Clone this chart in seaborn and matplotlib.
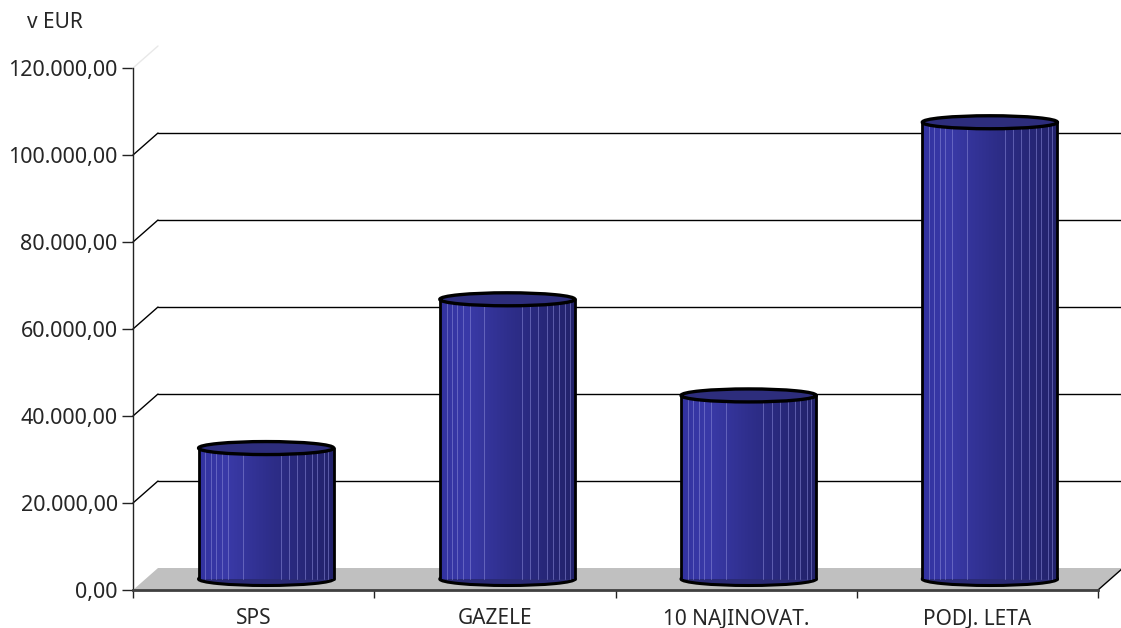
import numpy as np
import matplotlib
matplotlib.use('Agg')
import matplotlib.pyplot as plt
import matplotlib.transforms as mtransforms
from matplotlib.patches import Ellipse, Polygon
from matplotlib.colors import LinearSegmentedColormap
from matplotlib.ticker import FuncFormatter
import seaborn as sns

# podatki
kategorije = ['SPS', 'GAZELE', '10 NAJINOVAT.', 'PODJ. LETA']
vrednosti = [30100, 64300, 42200, 105000]
y_oznake = [0, 20000, 40000, 60000, 80000, 100000, 120000]
enota = 'v EUR'

sns.set_style('white')
plt.rcParams['font.family'] = ['Noto Sans', 'DejaVu Sans']

W, H, DPI = 1121, 628, 100
fig = plt.figure(figsize=(W / DPI, H / DPI), dpi=DPI)

# sprednja ravnina osi (piksli)
L, R, B, T = 133, 1098, 590, 68
ax = fig.add_axes([L / W, 1 - B / H, (R - L) / W, (B - T) / H])
YMAX = y_oznake[-1]

# globina 3D (piksli) in pretvorba v enote podatkov
DX, DY = 25, 22
dxd = DX * 4 / (R - L)
dyd = DY * YMAX / (B - T)
sredina = ax.transData + mtransforms.ScaledTranslation(DX / 2 / DPI, DY / 2 / DPI, fig.dpi_scale_trans)
zadaj = ax.transData + mtransforms.ScaledTranslation(DX / DPI, DY / DPI, fig.dpi_scale_trans)

# tla
tla = Polygon([(-0.5, 0), (3.5, 0), (3.5 + dxd, dyd), (-0.5 + dxd, dyd)],
              closed=True, facecolor='#c0c0c0', edgecolor='none', zorder=0.5, clip_on=False)
ax.add_patch(tla)
ax.plot([3.5, 3.5 + dxd], [0, dyd], color='black', lw=1, zorder=0.6, clip_on=False)

# mreža na zadnji steni + diagonale
for v in y_oznake[1:]:
    barva = '#e8e8e8' if v == YMAX else 'black'
    if v != YMAX:
        ax.plot([-0.5, 3.6], [v, v], transform=zadaj, color='black', lw=1, zorder=1, clip_on=False)
    ax.plot([-0.5, -0.5 + dxd], [v, v + dyd], color=barva, lw=1, zorder=1, clip_on=False)

# valji
sns.barplot(x=kategorije, y=vrednosti, ax=ax, width=0.56, color='#30308a', saturation=1, zorder=3)

cmap = LinearSegmentedColormap.from_list('valj', [(0, '#3232a0'), (0.2, '#3a3aa8'),
                                                  (0.55, '#2d2d88'), (1, '#22226a')])
grad = np.linspace(0, 1, 256).reshape(1, -1)
crte = [0.05, 0.09, 0.13, 0.17, 0.22, 0.33, 0.61, 0.67, 0.73, 0.79, 0.84, 0.88, 0.93, 0.96]
EH = 13 * YMAX / (B - T)

for p in list(ax.patches):
    if not hasattr(p, 'get_width') or p is tla:
        continue
    x0, w, h = p.get_x(), p.get_width(), p.get_height()
    p.set_transform(sredina)
    p.set_edgecolor('none')
    im = ax.imshow(grad, cmap=cmap, extent=[x0, x0 + w, 0, h], aspect='auto',
                   interpolation='bilinear', zorder=3.1)
    im.set_transform(sredina)
    for f in crte:
        ax.plot([x0 + f * w] * 2, [0, h], transform=sredina, color='#8a8ad8',
                lw=0.7, alpha=0.55, zorder=3.2)
    for xs in (x0, x0 + w):
        ax.plot([xs, xs], [0, h], transform=sredina, color='black', lw=2, zorder=3.3)
    ax.add_patch(Ellipse((x0 + w / 2, 0), w, EH, transform=sredina, facecolor='#2a2a75',
                         edgecolor='black', lw=2.2, zorder=2.9, clip_on=False))
    ax.add_patch(Ellipse((x0 + w / 2, h), w, EH, transform=sredina, facecolor='#2d2d7c',
                         edgecolor='black', lw=2.4, zorder=3.5, clip_on=False))

ax.set_xlim(-0.5, 3.5)
ax.set_ylim(0, YMAX)

# osi
for s in ['top', 'right']:
    ax.spines[s].set_visible(False)
ax.spines['left'].set_color('#222222')
ax.spines['left'].set_linewidth(1)
ax.spines['bottom'].set_color('#404040')
ax.spines['bottom'].set_linewidth(2)
ax.spines['left'].set_zorder(4)
ax.spines['bottom'].set_zorder(4)

ax.set_yticks(y_oznake)
ax.yaxis.set_major_formatter(FuncFormatter(
    lambda v, _: f'{v:,.2f}'.replace(',', 'X').replace('.', ',').replace('X', '.')))
ax.tick_params(axis='y', direction='out', length=8, width=1, color='#222222',
               labelsize=15.5, pad=3, left=True)

ax.set_xticks(range(len(kategorije)))
ax.set_xticklabels(kategorije)
ax.set_xticks([-0.5, 0.5, 1.5, 2.5, 3.5], minor=True)
ax.tick_params(axis='x', which='major', length=0, labelsize=15, pad=13)
ax.tick_params(axis='x', which='minor', direction='out', length=6, width=1,
               color='#222222', bottom=True)
ax.set_xlabel('')
ax.set_ylabel('')
ax.grid(False)

fig.text(27 / W, 1 - 22 / H, enota, fontsize=15, va='center', ha='left')

fig.savefig('out.png', dpi=DPI)
